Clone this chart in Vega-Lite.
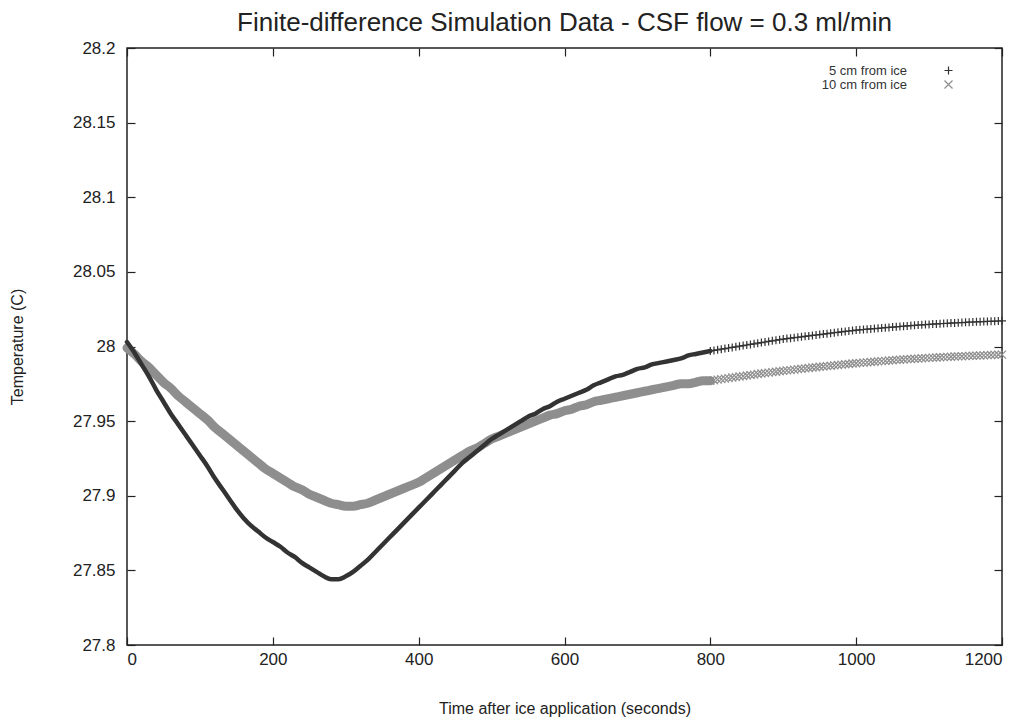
{
  "$schema": "https://vega.github.io/schema/vega-lite/v6.json",
  "autosize": "none",
  "width": 875,
  "height": 597,
  "padding": {"left": 127, "top": 48, "right": 32, "bottom": 75},
  "background": "white",
  "config": {
    "font": "Liberation Sans",
    "view": {"stroke": "#222", "strokeWidth": 1.5},
    "axis": {"grid": false, "domain": false, "tickColor": "#222", "tickWidth": 1.2, "labelColor": "#222", "titleColor": "#222", "labelFont": "Liberation Sans", "titleFont": "Liberation Sans", "titleFontWeight": "normal", "labelFontSize": 17, "titleFontSize": 16}
  },
  "title": {"text": "Finite-difference Simulation Data - CSF flow = 0.3 ml/min", "fontSize": 26, "fontWeight": "normal", "font": "Liberation Sans", "color": "#222", "anchor": "middle", "offset": 3},
  "datasets": {
    "dense": [
      {"series":"5 cm from ice","time":0,"temp":28.003},{"series":"5 cm from ice","time":10,"temp":27.996},{"series":"5 cm from ice","time":20,"temp":27.988},{"series":"5 cm from ice","time":30,"temp":27.980},{"series":"5 cm from ice","time":40,"temp":27.971},{"series":"5 cm from ice","time":50,"temp":27.963},{"series":"5 cm from ice","time":60,"temp":27.955},{"series":"5 cm from ice","time":70,"temp":27.948},{"series":"5 cm from ice","time":80,"temp":27.941},{"series":"5 cm from ice","time":90,"temp":27.934},{"series":"5 cm from ice","time":100,"temp":27.927},{"series":"5 cm from ice","time":110,"temp":27.920},{"series":"5 cm from ice","time":120,"temp":27.912},{"series":"5 cm from ice","time":130,"temp":27.905},{"series":"5 cm from ice","time":140,"temp":27.898},{"series":"5 cm from ice","time":150,"temp":27.891},{"series":"5 cm from ice","time":160,"temp":27.885},{"series":"5 cm from ice","time":170,"temp":27.880},{"series":"5 cm from ice","time":180,"temp":27.876},{"series":"5 cm from ice","time":190,"temp":27.872},{"series":"5 cm from ice","time":200,"temp":27.869},{"series":"5 cm from ice","time":210,"temp":27.866},{"series":"5 cm from ice","time":220,"temp":27.862},{"series":"5 cm from ice","time":230,"temp":27.859},{"series":"5 cm from ice","time":240,"temp":27.855},{"series":"5 cm from ice","time":250,"temp":27.852},{"series":"5 cm from ice","time":260,"temp":27.849},{"series":"5 cm from ice","time":270,"temp":27.846},{"series":"5 cm from ice","time":280,"temp":27.844},{"series":"5 cm from ice","time":290,"temp":27.844},{"series":"5 cm from ice","time":300,"temp":27.846},{"series":"5 cm from ice","time":310,"temp":27.849},{"series":"5 cm from ice","time":320,"temp":27.853},{"series":"5 cm from ice","time":330,"temp":27.857},{"series":"5 cm from ice","time":340,"temp":27.862},{"series":"5 cm from ice","time":350,"temp":27.867},{"series":"5 cm from ice","time":360,"temp":27.872},{"series":"5 cm from ice","time":370,"temp":27.877},{"series":"5 cm from ice","time":380,"temp":27.882},{"series":"5 cm from ice","time":390,"temp":27.887},{"series":"5 cm from ice","time":400,"temp":27.892},{"series":"5 cm from ice","time":410,"temp":27.897},{"series":"5 cm from ice","time":420,"temp":27.902},{"series":"5 cm from ice","time":430,"temp":27.907},{"series":"5 cm from ice","time":440,"temp":27.912},{"series":"5 cm from ice","time":450,"temp":27.917},{"series":"5 cm from ice","time":460,"temp":27.922},{"series":"5 cm from ice","time":470,"temp":27.926},{"series":"5 cm from ice","time":480,"temp":27.930},{"series":"5 cm from ice","time":490,"temp":27.934},{"series":"5 cm from ice","time":500,"temp":27.938},{"series":"5 cm from ice","time":510,"temp":27.941},{"series":"5 cm from ice","time":520,"temp":27.944},{"series":"5 cm from ice","time":530,"temp":27.947},{"series":"5 cm from ice","time":540,"temp":27.950},{"series":"5 cm from ice","time":550,"temp":27.953},{"series":"5 cm from ice","time":560,"temp":27.955},{"series":"5 cm from ice","time":570,"temp":27.958},{"series":"5 cm from ice","time":580,"temp":27.960},{"series":"5 cm from ice","time":590,"temp":27.963},{"series":"5 cm from ice","time":600,"temp":27.965},{"series":"5 cm from ice","time":610,"temp":27.967},{"series":"5 cm from ice","time":620,"temp":27.969},{"series":"5 cm from ice","time":630,"temp":27.971},{"series":"5 cm from ice","time":640,"temp":27.974},{"series":"5 cm from ice","time":650,"temp":27.976},{"series":"5 cm from ice","time":660,"temp":27.978},{"series":"5 cm from ice","time":670,"temp":27.980},{"series":"5 cm from ice","time":680,"temp":27.981},{"series":"5 cm from ice","time":690,"temp":27.983},{"series":"5 cm from ice","time":700,"temp":27.985},{"series":"5 cm from ice","time":710,"temp":27.986},{"series":"5 cm from ice","time":720,"temp":27.988},{"series":"5 cm from ice","time":730,"temp":27.989},{"series":"5 cm from ice","time":740,"temp":27.990},{"series":"5 cm from ice","time":750,"temp":27.991},{"series":"5 cm from ice","time":760,"temp":27.992},{"series":"5 cm from ice","time":770,"temp":27.994},{"series":"5 cm from ice","time":780,"temp":27.995},{"series":"5 cm from ice","time":790,"temp":27.996},{"series":"5 cm from ice","time":800,"temp":27.997},
      {"series":"10 cm from ice","time":0,"temp":27.999},{"series":"10 cm from ice","time":10,"temp":27.995},{"series":"10 cm from ice","time":20,"temp":27.990},{"series":"10 cm from ice","time":30,"temp":27.986},{"series":"10 cm from ice","time":40,"temp":27.981},{"series":"10 cm from ice","time":50,"temp":27.976},{"series":"10 cm from ice","time":60,"temp":27.972},{"series":"10 cm from ice","time":70,"temp":27.967},{"series":"10 cm from ice","time":80,"temp":27.963},{"series":"10 cm from ice","time":90,"temp":27.959},{"series":"10 cm from ice","time":100,"temp":27.955},{"series":"10 cm from ice","time":110,"temp":27.951},{"series":"10 cm from ice","time":120,"temp":27.946},{"series":"10 cm from ice","time":130,"temp":27.942},{"series":"10 cm from ice","time":140,"temp":27.938},{"series":"10 cm from ice","time":150,"temp":27.934},{"series":"10 cm from ice","time":160,"temp":27.930},{"series":"10 cm from ice","time":170,"temp":27.926},{"series":"10 cm from ice","time":180,"temp":27.922},{"series":"10 cm from ice","time":190,"temp":27.918},{"series":"10 cm from ice","time":200,"temp":27.915},{"series":"10 cm from ice","time":210,"temp":27.912},{"series":"10 cm from ice","time":220,"temp":27.909},{"series":"10 cm from ice","time":230,"temp":27.906},{"series":"10 cm from ice","time":240,"temp":27.904},{"series":"10 cm from ice","time":250,"temp":27.901},{"series":"10 cm from ice","time":260,"temp":27.899},{"series":"10 cm from ice","time":270,"temp":27.897},{"series":"10 cm from ice","time":280,"temp":27.895},{"series":"10 cm from ice","time":290,"temp":27.894},{"series":"10 cm from ice","time":300,"temp":27.893},{"series":"10 cm from ice","time":310,"temp":27.893},{"series":"10 cm from ice","time":320,"temp":27.894},{"series":"10 cm from ice","time":330,"temp":27.895},{"series":"10 cm from ice","time":340,"temp":27.897},{"series":"10 cm from ice","time":350,"temp":27.899},{"series":"10 cm from ice","time":360,"temp":27.901},{"series":"10 cm from ice","time":370,"temp":27.903},{"series":"10 cm from ice","time":380,"temp":27.905},{"series":"10 cm from ice","time":390,"temp":27.907},{"series":"10 cm from ice","time":400,"temp":27.909},{"series":"10 cm from ice","time":410,"temp":27.912},{"series":"10 cm from ice","time":420,"temp":27.915},{"series":"10 cm from ice","time":430,"temp":27.918},{"series":"10 cm from ice","time":440,"temp":27.921},{"series":"10 cm from ice","time":450,"temp":27.924},{"series":"10 cm from ice","time":460,"temp":27.927},{"series":"10 cm from ice","time":470,"temp":27.930},{"series":"10 cm from ice","time":480,"temp":27.932},{"series":"10 cm from ice","time":490,"temp":27.935},{"series":"10 cm from ice","time":500,"temp":27.938},{"series":"10 cm from ice","time":510,"temp":27.940},{"series":"10 cm from ice","time":520,"temp":27.942},{"series":"10 cm from ice","time":530,"temp":27.944},{"series":"10 cm from ice","time":540,"temp":27.946},{"series":"10 cm from ice","time":550,"temp":27.948},{"series":"10 cm from ice","time":560,"temp":27.950},{"series":"10 cm from ice","time":570,"temp":27.952},{"series":"10 cm from ice","time":580,"temp":27.954},{"series":"10 cm from ice","time":590,"temp":27.955},{"series":"10 cm from ice","time":600,"temp":27.957},{"series":"10 cm from ice","time":610,"temp":27.958},{"series":"10 cm from ice","time":620,"temp":27.960},{"series":"10 cm from ice","time":630,"temp":27.961},{"series":"10 cm from ice","time":640,"temp":27.963},{"series":"10 cm from ice","time":650,"temp":27.964},{"series":"10 cm from ice","time":660,"temp":27.965},{"series":"10 cm from ice","time":670,"temp":27.966},{"series":"10 cm from ice","time":680,"temp":27.967},{"series":"10 cm from ice","time":690,"temp":27.968},{"series":"10 cm from ice","time":700,"temp":27.969},{"series":"10 cm from ice","time":710,"temp":27.970},{"series":"10 cm from ice","time":720,"temp":27.971},{"series":"10 cm from ice","time":730,"temp":27.972},{"series":"10 cm from ice","time":740,"temp":27.973},{"series":"10 cm from ice","time":750,"temp":27.974},{"series":"10 cm from ice","time":760,"temp":27.975},{"series":"10 cm from ice","time":770,"temp":27.975},{"series":"10 cm from ice","time":780,"temp":27.976},{"series":"10 cm from ice","time":790,"temp":27.977},{"series":"10 cm from ice","time":800,"temp":27.977}
    ],
    "tail": [
      {"series":"5 cm from ice","time":800,"temp":27.9970},{"series":"5 cm from ice","time":805,"temp":27.9974},{"series":"5 cm from ice","time":810,"temp":27.9978},{"series":"5 cm from ice","time":815,"temp":27.9982},{"series":"5 cm from ice","time":820,"temp":27.9986},{"series":"5 cm from ice","time":825,"temp":27.9990},{"series":"5 cm from ice","time":830,"temp":27.9994},{"series":"5 cm from ice","time":835,"temp":27.9998},{"series":"5 cm from ice","time":840,"temp":28.0002},{"series":"5 cm from ice","time":845,"temp":28.0006},{"series":"5 cm from ice","time":850,"temp":28.0010},{"series":"5 cm from ice","time":855,"temp":28.0014},{"series":"5 cm from ice","time":860,"temp":28.0018},{"series":"5 cm from ice","time":865,"temp":28.0022},{"series":"5 cm from ice","time":870,"temp":28.0026},{"series":"5 cm from ice","time":875,"temp":28.0030},{"series":"5 cm from ice","time":880,"temp":28.0034},{"series":"5 cm from ice","time":885,"temp":28.0038},{"series":"5 cm from ice","time":890,"temp":28.0042},{"series":"5 cm from ice","time":895,"temp":28.0046},{"series":"5 cm from ice","time":900,"temp":28.0050},{"series":"5 cm from ice","time":905,"temp":28.0053},{"series":"5 cm from ice","time":910,"temp":28.0056},{"series":"5 cm from ice","time":915,"temp":28.0059},{"series":"5 cm from ice","time":920,"temp":28.0062},{"series":"5 cm from ice","time":925,"temp":28.0065},{"series":"5 cm from ice","time":930,"temp":28.0068},{"series":"5 cm from ice","time":935,"temp":28.0071},{"series":"5 cm from ice","time":940,"temp":28.0074},{"series":"5 cm from ice","time":945,"temp":28.0077},{"series":"5 cm from ice","time":950,"temp":28.0080},{"series":"5 cm from ice","time":955,"temp":28.0083},{"series":"5 cm from ice","time":960,"temp":28.0086},{"series":"5 cm from ice","time":965,"temp":28.0089},{"series":"5 cm from ice","time":970,"temp":28.0092},{"series":"5 cm from ice","time":975,"temp":28.0095},{"series":"5 cm from ice","time":980,"temp":28.0098},{"series":"5 cm from ice","time":985,"temp":28.0101},{"series":"5 cm from ice","time":990,"temp":28.0104},{"series":"5 cm from ice","time":995,"temp":28.0107},{"series":"5 cm from ice","time":1000,"temp":28.0110},{"series":"5 cm from ice","time":1005,"temp":28.0112},{"series":"5 cm from ice","time":1010,"temp":28.0114},{"series":"5 cm from ice","time":1015,"temp":28.0116},{"series":"5 cm from ice","time":1020,"temp":28.0118},{"series":"5 cm from ice","time":1025,"temp":28.0120},{"series":"5 cm from ice","time":1030,"temp":28.0122},{"series":"5 cm from ice","time":1035,"temp":28.0124},{"series":"5 cm from ice","time":1040,"temp":28.0126},{"series":"5 cm from ice","time":1045,"temp":28.0128},{"series":"5 cm from ice","time":1050,"temp":28.0130},{"series":"5 cm from ice","time":1055,"temp":28.0132},{"series":"5 cm from ice","time":1060,"temp":28.0134},{"series":"5 cm from ice","time":1065,"temp":28.0136},{"series":"5 cm from ice","time":1070,"temp":28.0138},{"series":"5 cm from ice","time":1075,"temp":28.0140},{"series":"5 cm from ice","time":1080,"temp":28.0142},{"series":"5 cm from ice","time":1085,"temp":28.0144},{"series":"5 cm from ice","time":1090,"temp":28.0145},{"series":"5 cm from ice","time":1095,"temp":28.0147},{"series":"5 cm from ice","time":1100,"temp":28.0148},{"series":"5 cm from ice","time":1105,"temp":28.0150},{"series":"5 cm from ice","time":1110,"temp":28.0151},{"series":"5 cm from ice","time":1115,"temp":28.0153},{"series":"5 cm from ice","time":1120,"temp":28.0154},{"series":"5 cm from ice","time":1125,"temp":28.0155},{"series":"5 cm from ice","time":1130,"temp":28.0157},{"series":"5 cm from ice","time":1135,"temp":28.0158},{"series":"5 cm from ice","time":1140,"temp":28.0159},{"series":"5 cm from ice","time":1145,"temp":28.0160},{"series":"5 cm from ice","time":1150,"temp":28.0162},{"series":"5 cm from ice","time":1155,"temp":28.0163},{"series":"5 cm from ice","time":1160,"temp":28.0164},{"series":"5 cm from ice","time":1165,"temp":28.0165},{"series":"5 cm from ice","time":1170,"temp":28.0166},{"series":"5 cm from ice","time":1175,"temp":28.0167},{"series":"5 cm from ice","time":1180,"temp":28.0168},{"series":"5 cm from ice","time":1185,"temp":28.0169},{"series":"5 cm from ice","time":1190,"temp":28.0170},{"series":"5 cm from ice","time":1195,"temp":28.0171},{"series":"5 cm from ice","time":1200,"temp":28.0172},
      {"series":"10 cm from ice","time":800,"temp":27.9770},{"series":"10 cm from ice","time":805,"temp":27.9774},{"series":"10 cm from ice","time":810,"temp":27.9778},{"series":"10 cm from ice","time":815,"temp":27.9781},{"series":"10 cm from ice","time":820,"temp":27.9785},{"series":"10 cm from ice","time":825,"temp":27.9788},{"series":"10 cm from ice","time":830,"temp":27.9792},{"series":"10 cm from ice","time":835,"temp":27.9795},{"series":"10 cm from ice","time":840,"temp":27.9799},{"series":"10 cm from ice","time":845,"temp":27.9802},{"series":"10 cm from ice","time":850,"temp":27.9806},{"series":"10 cm from ice","time":855,"temp":27.9809},{"series":"10 cm from ice","time":860,"temp":27.9812},{"series":"10 cm from ice","time":865,"temp":27.9816},{"series":"10 cm from ice","time":870,"temp":27.9819},{"series":"10 cm from ice","time":875,"temp":27.9822},{"series":"10 cm from ice","time":880,"temp":27.9825},{"series":"10 cm from ice","time":885,"temp":27.9828},{"series":"10 cm from ice","time":890,"temp":27.9831},{"series":"10 cm from ice","time":895,"temp":27.9834},{"series":"10 cm from ice","time":900,"temp":27.9837},{"series":"10 cm from ice","time":905,"temp":27.9840},{"series":"10 cm from ice","time":910,"temp":27.9842},{"series":"10 cm from ice","time":915,"temp":27.9845},{"series":"10 cm from ice","time":920,"temp":27.9848},{"series":"10 cm from ice","time":925,"temp":27.9851},{"series":"10 cm from ice","time":930,"temp":27.9853},{"series":"10 cm from ice","time":935,"temp":27.9856},{"series":"10 cm from ice","time":940,"temp":27.9859},{"series":"10 cm from ice","time":945,"temp":27.9861},{"series":"10 cm from ice","time":950,"temp":27.9864},{"series":"10 cm from ice","time":955,"temp":27.9866},{"series":"10 cm from ice","time":960,"temp":27.9869},{"series":"10 cm from ice","time":965,"temp":27.9871},{"series":"10 cm from ice","time":970,"temp":27.9874},{"series":"10 cm from ice","time":975,"temp":27.9876},{"series":"10 cm from ice","time":980,"temp":27.9879},{"series":"10 cm from ice","time":985,"temp":27.9881},{"series":"10 cm from ice","time":990,"temp":27.9883},{"series":"10 cm from ice","time":995,"temp":27.9886},{"series":"10 cm from ice","time":1000,"temp":27.9888},{"series":"10 cm from ice","time":1005,"temp":27.9890},{"series":"10 cm from ice","time":1010,"temp":27.9892},{"series":"10 cm from ice","time":1015,"temp":27.9894},{"series":"10 cm from ice","time":1020,"temp":27.9896},{"series":"10 cm from ice","time":1025,"temp":27.9898},{"series":"10 cm from ice","time":1030,"temp":27.9900},{"series":"10 cm from ice","time":1035,"temp":27.9902},{"series":"10 cm from ice","time":1040,"temp":27.9904},{"series":"10 cm from ice","time":1045,"temp":27.9906},{"series":"10 cm from ice","time":1050,"temp":27.9908},{"series":"10 cm from ice","time":1055,"temp":27.9910},{"series":"10 cm from ice","time":1060,"temp":27.9911},{"series":"10 cm from ice","time":1065,"temp":27.9913},{"series":"10 cm from ice","time":1070,"temp":27.9915},{"series":"10 cm from ice","time":1075,"temp":27.9916},{"series":"10 cm from ice","time":1080,"temp":27.9918},{"series":"10 cm from ice","time":1085,"temp":27.9919},{"series":"10 cm from ice","time":1090,"temp":27.9921},{"series":"10 cm from ice","time":1095,"temp":27.9922},{"series":"10 cm from ice","time":1100,"temp":27.9924},{"series":"10 cm from ice","time":1105,"temp":27.9925},{"series":"10 cm from ice","time":1110,"temp":27.9926},{"series":"10 cm from ice","time":1115,"temp":27.9928},{"series":"10 cm from ice","time":1120,"temp":27.9929},{"series":"10 cm from ice","time":1125,"temp":27.9930},{"series":"10 cm from ice","time":1130,"temp":27.9931},{"series":"10 cm from ice","time":1135,"temp":27.9933},{"series":"10 cm from ice","time":1140,"temp":27.9934},{"series":"10 cm from ice","time":1145,"temp":27.9935},{"series":"10 cm from ice","time":1150,"temp":27.9936},{"series":"10 cm from ice","time":1155,"temp":27.9937},{"series":"10 cm from ice","time":1160,"temp":27.9938},{"series":"10 cm from ice","time":1165,"temp":27.9939},{"series":"10 cm from ice","time":1170,"temp":27.9940},{"series":"10 cm from ice","time":1175,"temp":27.9941},{"series":"10 cm from ice","time":1180,"temp":27.9942},{"series":"10 cm from ice","time":1185,"temp":27.9943},{"series":"10 cm from ice","time":1190,"temp":27.9944},{"series":"10 cm from ice","time":1195,"temp":27.9945},{"series":"10 cm from ice","time":1200,"temp":27.9946}
    ]
  },
  "layer": [
    {
      "data": {"name": "dense"},
      "transform": [{"filter": "datum.series === '10 cm from ice'"}],
      "mark": {"type": "line", "color": "#8e8e8e", "strokeWidth": 9, "strokeCap": "round", "strokeJoin": "round", "interpolate": "monotone"},
      "encoding": {
        "x": {"field": "time", "type": "quantitative", "scale": {"domain": [0, 1200], "nice": false, "zero": false},
              "axis": {"orient": "top", "values": [0, 200, 400, 600, 800, 1000, 1200], "labels": false, "title": null, "tickSize": -8}},
        "y": {"field": "temp", "type": "quantitative", "scale": {"domain": [27.8, 28.2], "nice": false, "zero": false},
              "axis": {"orient": "right", "values": [27.8, 27.85, 27.9, 27.95, 28, 28.05, 28.1, 28.15, 28.2], "labels": false, "title": null, "tickSize": -8}}
      }
    },
    {
      "data": {"name": "dense"},
      "transform": [{"filter": "datum.series === '5 cm from ice'"}],
      "mark": {"type": "line", "color": "#333333", "strokeWidth": 4.5, "strokeCap": "round", "strokeJoin": "round", "interpolate": "monotone"},
      "encoding": {
        "x": {"field": "time", "type": "quantitative", "axis": null},
        "y": {"field": "temp", "type": "quantitative", "axis": null}
      }
    },
    {
      "data": {"name": "tail"},
      "mark": {"type": "point", "filled": false, "strokeWidth": 1.2, "opacity": 1, "size": 64},
      "encoding": {
        "x": {"field": "time", "type": "quantitative",
              "axis": {"orient": "bottom", "values": [0, 200, 400, 600, 800, 1000, 1200], "format": "d", "title": "Time after ice application (seconds)", "tickSize": -8, "labelPadding": 14, "titlePadding": 33}},
        "y": {"field": "temp", "type": "quantitative",
              "axis": {"orient": "left", "values": [27.8, 27.85, 27.9, 27.95, 28, 28.05, 28.1, 28.15, 28.2], "format": ".4~r", "title": "Temperature (C)", "tickSize": -8, "labelPadding": 20, "titlePadding": 47}},
        "color": {"field": "series", "type": "nominal", "scale": {"domain": ["5 cm from ice", "10 cm from ice"], "range": ["#333333", "#8e8e8e"]},
                  "legend": {"title": null, "orient": "none", "legendX": 815, "legendY": 16, "labelFontSize": 13, "labelColor": "#333", "labelAlign": "right", "labelOffset": -48, "rowPadding": 0, "symbolStrokeWidth": 1.2, "symbolSize": 64}},
        "shape": {"field": "series", "type": "nominal", "scale": {"domain": ["5 cm from ice", "10 cm from ice"], "range": ["M-1,0L1,0M0,-1L0,1", "M-1,-1L1,1M-1,1L1,-1"]}}
      }
    }
  ],
  "resolve": {"axis": {"x": "independent", "y": "independent"}}
}
